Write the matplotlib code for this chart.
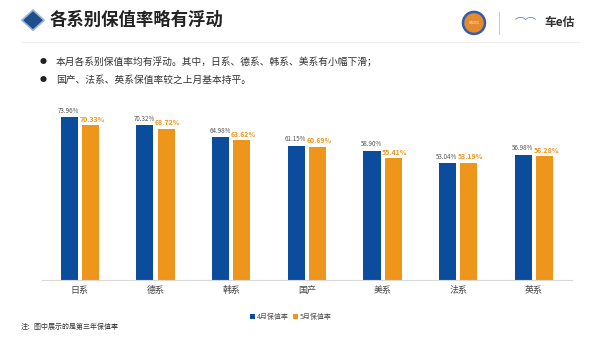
import matplotlib.pyplot as plt
from matplotlib.patches import Ellipse, Polygon
import numpy as np

plt.rcParams['font.family'] = ['Noto Sans CJK SC', 'DejaVu Sans']

categories = ['日系', '德系', '韩系', '国产', '美系', '法系', '英系']
april = [73.96, 70.32, 64.98, 61.15, 58.90, 53.04, 56.98]
may = [70.33, 68.72, 63.62, 60.69, 55.41, 53.19, 56.28]
series_names = ['4月保值率', '5月保值率']

title = '各系别保值率略有浮动'
bullets = ['本月各系别保值率均有浮动。其中，日系、德系、韩系、美系有小幅下滑；',
           '国产、法系、英系保值率较之上月基本持平。']
note = '注：图中展示的是第三年保值率'

blue = '#0B4C9C'
orange = '#EE961C'


def main():
    fig = plt.figure(figsize=(6, 3.37), dpi=100)
    fig.patch.set_facecolor('white')

    # header
    fig.patches.append(Polygon([[0.055, 0.97], [0.0735, 0.94], [0.055, 0.91], [0.0365, 0.94]],
                               closed=True, transform=fig.transFigure,
                               facecolor='#1F4E8C', edgecolor='#9DB3D4', lw=1.2))
    fig.text(0.083, 0.94, title, fontsize=12.5, fontweight='bold', color='#222222',
             va='center', ha='left')
    fig.add_artist(plt.Line2D([0.035, 0.965], [0.875, 0.875], color='#EEEEEE', lw=0.8))

    # logos (rough)
    fig.patches.append(Ellipse((0.79, 0.932), 22 / 600, 22 / 337, transform=fig.transFigure,
                               facecolor='#E58A2E', edgecolor='#2F5FA8', lw=1.8))
    fig.text(0.79, 0.932, 'CADCC', fontsize=2.5, color='white', ha='center', va='center')
    fig.add_artist(plt.Line2D([0.832, 0.832], [0.9, 0.965], color='#CCCCCC', lw=0.8))
    fig.text(0.876, 0.935, '⌒⌒', fontsize=8, color='#5A8CC8', ha='center', va='center')
    fig.text(0.932, 0.932, '车e估', fontsize=8.5, fontweight='bold', color='#333333',
             ha='center', va='center')

    for i, b in enumerate(bullets):
        y = 0.815 - i * 0.053
        fig.text(0.072, y, '●', fontsize=5, color='#222222', ha='center', va='center')
        fig.text(0.093, y, b, fontsize=7, color='#333333', ha='left', va='center')

    ax = fig.add_axes([0.07, 0.169, 0.883, 0.522])
    x = np.arange(len(categories))
    w = 0.225
    ax.bar(x - 0.14, april, w, color=blue, label=series_names[0])
    ax.bar(x + 0.14, may, w, color=orange, label=series_names[1])

    for xi, a, m in zip(x, april, may):
        ax.text(xi - 0.15, a + 1.2, '%.2f%%' % a, fontsize=4.5, color='#555555',
                ha='center', va='bottom')
        ax.text(xi + 0.16, m + 1.2, '%.2f%%' % m, fontsize=5, color=orange,
                fontweight='bold', ha='center', va='bottom')

    ax.set_xlim(-0.5, len(categories) - 0.5)
    ax.set_ylim(0, 80)
    ax.set_xticks(x)
    ax.set_xticklabels(categories, fontsize=6.5, color='#444444')
    ax.tick_params(axis='x', length=0, pad=4)
    ax.set_yticks([])
    for s in ['top', 'right', 'left']:
        ax.spines[s].set_visible(False)
    ax.spines['bottom'].set_color('#D9D9D9')
    ax.spines['bottom'].set_linewidth(0.8)

    ax.legend(loc='upper center', bbox_to_anchor=(0.47, -0.15), ncol=2, frameon=False,
              fontsize=5, handlelength=0.7, handleheight=0.7, handletextpad=0.3,
              columnspacing=0.6, labelcolor='#555555')

    fig.text(0.035, 0.03, note, fontsize=5, color='#333333', ha='left', va='center')

    fig.savefig('out.png', dpi=100)


if __name__ == "__main__":
    main()
